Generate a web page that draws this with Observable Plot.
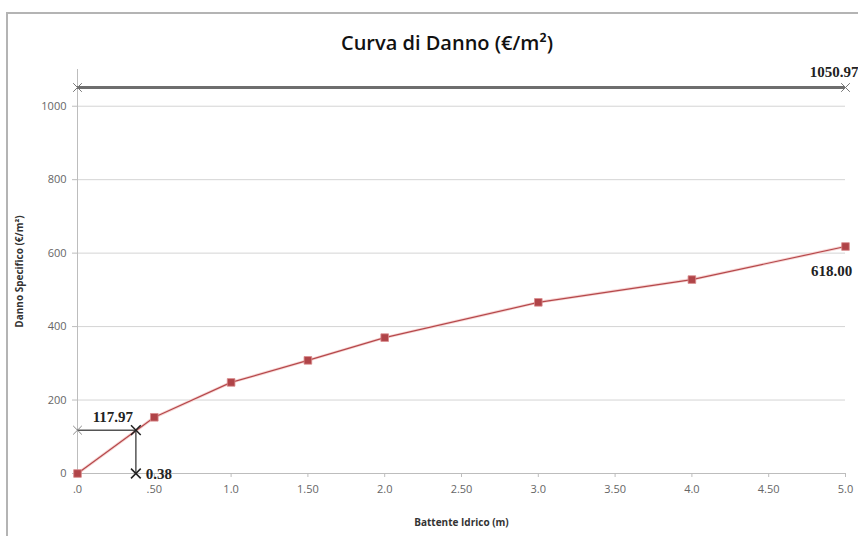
<!DOCTYPE html>
<html>
<head>
<meta charset="utf-8">
<script src="https://cdn.jsdelivr.net/npm/d3@7"></script>
<script src="https://cdn.jsdelivr.net/npm/@observablehq/plot@0.6"></script>
<style>
  html, body { margin: 0; padding: 0; background: #fff; }
  #wrap { position: relative; width: 858px; height: 536px; overflow: hidden; }
  #frame { position: absolute; left: 6px; top: 12px; width: 900px; height: 600px;
           border-top: 2px solid #b4b4b4; border-left: 2px solid #b4b4b4; }
  #title { position: absolute; left: 0; width: 894px; top: 29px; text-align: center;
           font-family: "Open Sans", sans-serif; font-size: 20px; font-weight: 600; color: #111; }
  #chart { position: absolute; left: 0; top: 0; }
</style>
</head>
<body>
<div id="wrap">
  <div id="frame"></div>
  <div id="chart"></div>
  <div id="title">Curva di Danno (€/m²)</div>
</div>
<script>
const depth = [0, 0.5, 1, 1.5, 2, 3, 4, 5];
const damage = [0, 153, 248, 308, 370, 466, 528, 618];
const xTicks = [0, 0.5, 1, 1.5, 2, 2.5, 3, 3.5, 4, 4.5, 5];
const xTickLabels = [".0", ".50", "1.0", "1.50", "2.0", "2.50", "3.0", "3.50", "4.0", "4.50", "5.0"];
const yTicks = [0, 200, 400, 600, 800, 1000];
const maxDamage = 1050.97;
const lastDamage = 618.00;
const hitDepth = 0.38;
const hitDamage = 117.97;

const curve = depth.map((d, i) => ({x: d, y: damage[i]}));
const labelFor = new Map(xTicks.map((t, i) => [t, xTickLabels[i]]));
const serif = "'Liberation Serif', 'Times New Roman', serif";

const chart = Plot.plot({
  width: 858,
  height: 536,
  marginLeft: 77,
  marginRight: 13,
  marginTop: 69,
  marginBottom: 63,
  style: {fontFamily: "'Open Sans', sans-serif", fontSize: "11px", color: "#555", background: "transparent"},
  x: {domain: [0, 5]},
  y: {domain: [0, 1100]},
  marks: [
    Plot.gridY(yTicks.filter(t => t > 0), {stroke: "#d4d4d4", strokeOpacity: 1, strokeWidth: 1}),
    Plot.ruleY([0], {stroke: "#bdbdbd", strokeWidth: 1}),
    Plot.ruleX([0], {stroke: "#bdbdbd", strokeWidth: 1}),
    Plot.axisX({ticks: xTicks, tickFormat: d => labelFor.get(d), tickSize: 4, tickPadding: 8,
      stroke: "#bdbdbd", fill: "#666", fontSize: 11,
      label: "Battente Idrico (m)", labelAnchor: "center", labelArrow: "none", labelOffset: 52}),
    Plot.axisY({ticks: yTicks, tickFormat: d => String(d), tickSize: 5, tickPadding: 6, stroke: "#bdbdbd", fill: "#666", fontSize: 11,
      label: "Danno Specifico (€/m²)", labelAnchor: "center", labelArrow: "none", labelOffset: 62}),
    // max damage line
    Plot.ruleY([maxDamage], {x1: 0, x2: 5, stroke: "#6e6e6e", strokeWidth: 3}),
    Plot.dot([{x: 0, y: maxDamage}, {x: 5, y: maxDamage}], {x: "x", y: "y", symbol: "times", r: 4, stroke: "#777", strokeWidth: 1}),
    Plot.text([{x: 5, y: maxDamage}], {x: "x", y: "y", text: () => maxDamage.toFixed(2), textAnchor: "end", dx: 13, dy: -15,
      fontFamily: serif, fontWeight: "bold", fontSize: 15, fill: "#222"}),
    // curve
    Plot.line(curve, {x: "x", y: "y", stroke: "#f7d6d5", strokeWidth: 3}),
    Plot.line(curve, {x: "x", y: "y", stroke: "#b5484b", strokeWidth: 1.2}),
    Plot.dot(curve, {x: "x", y: "y", symbol: "square", r: 4.3, fill: "#b04448", stroke: "#d98a8c", strokeWidth: 0.8}),
    Plot.text([{x: 5, y: lastDamage}], {x: "x", y: "y", text: () => lastDamage.toFixed(2), textAnchor: "middle", dx: -14, dy: 25,
      fontFamily: serif, fontWeight: "bold", fontSize: 15, fill: "#222"}),
    // intersection guides
    Plot.ruleY([hitDamage], {x1: 0, x2: hitDepth, stroke: "#555", strokeWidth: 1.5}),
    Plot.ruleX([hitDepth], {y1: 0, y2: hitDamage, stroke: "#555", strokeWidth: 1.5}),
    Plot.dot([{x: 0, y: hitDamage}], {x: "x", y: "y", symbol: "times", r: 4, stroke: "#888", strokeWidth: 1}),
    Plot.dot([{x: hitDepth, y: hitDamage}, {x: hitDepth, y: 0}], {x: "x", y: "y", symbol: "times", r: 4.5, stroke: "#222", strokeWidth: 1.5}),
    Plot.text([{x: hitDepth, y: hitDamage}], {x: "x", y: "y", text: () => hitDamage.toFixed(2), textAnchor: "middle", dx: -23, dy: -13,
      fontFamily: serif, fontWeight: "bold", fontSize: 15, fill: "#222"}),
    Plot.text([{x: hitDepth, y: 0}], {x: "x", y: "y", text: () => hitDepth.toFixed(2), textAnchor: "start", dx: 10, dy: 1,
      fontFamily: serif, fontWeight: "bold", fontSize: 15, fill: "#222"})
  ]
});
document.getElementById("chart").appendChild(chart);
// style axis labels
d3.select(chart).selectAll("g[aria-label='x-axis label'] text, g[aria-label='y-axis label'] text")
  .style("font-weight", "bold").style("font-size", "10px").style("fill", "#333");
</script>
</body>
</html>
